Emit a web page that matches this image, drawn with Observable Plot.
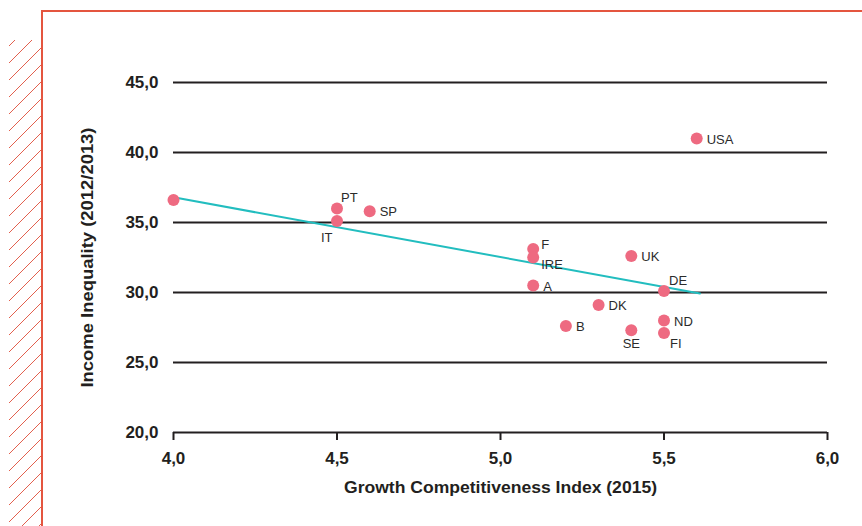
<!DOCTYPE html>
<html>
<head>
<meta charset="utf-8">
<script src="https://cdn.jsdelivr.net/npm/d3@7"></script>
<script src="https://cdn.jsdelivr.net/npm/@observablehq/plot@0.6"></script>
<style>
  html, body { margin: 0; padding: 0; background: #fff; }
  #wrap { position: relative; width: 862px; height: 526px; overflow: hidden; background: #fff; }
  #hatch { position: absolute; left: 9px; top: 40px; width: 32px; height: 486px; }
  #frame { position: absolute; left: 41px; top: 10px; width: 830px; height: 530px;
    border-top: 2.5px solid #e4553f; border-left: 2.5px solid #e4553f; }
  #chart { position: absolute; left: 0; top: 0; }
</style>
</head>
<body>
<div id="wrap">
  <svg id="hatch" width="32" height="486">
    <defs>
      <pattern id="hp" width="17" height="17" patternUnits="userSpaceOnUse" patternTransform="translate(0,6)">
        <line x1="0" y1="17" x2="17" y2="0" stroke="#e2604e" stroke-width="1"/>
        <line x1="-1" y1="1" x2="1" y2="-1" stroke="#e2604e" stroke-width="1"/>
        <line x1="16" y1="18" x2="18" y2="16" stroke="#e2604e" stroke-width="1"/>
      </pattern>
    </defs>
    <rect width="32" height="486" fill="url(#hp)"/>
  </svg>
  <div id="frame"></div>
  <div id="chart"></div>
</div>
<script>
// Data
const countries = ["", "PT", "IT", "SP", "USA", "F", "IRE", "A", "UK", "DE", "DK", "B", "SE", "ND", "FI"];
const gci       = [4.0, 4.5, 4.5, 4.6, 5.6, 5.1, 5.1, 5.1, 5.4, 5.5, 5.3, 5.2, 5.4, 5.5, 5.5];
const inequality= [36.6, 36.0, 35.1, 35.8, 41.0, 33.1, 32.5, 30.5, 32.6, 30.1, 29.1, 27.6, 27.3, 28.0, 27.1];
const labelPlacement = ["none", "top-right", "below-left", "right", "right", "upper-right", "lower-right", "right", "right", "top-right-near", "right", "right", "below", "right", "below-right"];
const trendX = [4.0, 5.61];
const trendY = [36.8, 29.93];
const xTicks = [4.0, 4.5, 5.0, 5.5, 6.0];
const yTicks = [20, 25, 30, 35, 40, 45];
const xTitle = "Growth Competitiveness Index (2015)";
const yTitle = "Income Inequality (2012/2013)";

const points = countries.map((c, i) => ({name: c, x: gci[i], y: inequality[i], pos: labelPlacement[i]}));
const trend = trendX.map((x, i) => ({x, y: trendY[i]}));

const placements = {
  "right":          {dx: 10, dy: 1,   anchor: "start"},
  "top-right":      {dx: 4,  dy: -11, anchor: "start"},
  "top-right-near": {dx: 5,  dy: -10, anchor: "start"},
  "upper-right":    {dx: 8,  dy: -4,  anchor: "start"},
  "lower-right":    {dx: 8,  dy: 7,   anchor: "start"},
  "below":          {dx: 0,  dy: 14,  anchor: "middle"},
  "below-right":    {dx: 6,  dy: 11,  anchor: "start"},
  "below-left":     {dx: -16,dy: 17,  anchor: "start"}
};

const fmt = d => d.toFixed(1).replace(".", ",");
const ink = "#231f20";
const tickFont = "'Liberation Sans', Arial, Helvetica, sans-serif";

const labelMarks = Object.entries(placements).map(([key, p]) =>
  Plot.text(points.filter(d => d.pos === key), {
    x: "x", y: "y", text: "name", dx: p.dx, dy: p.dy, textAnchor: p.anchor,
    fill: "#2b2b2b", fontSize: 13, fontFamily: tickFont
  })
);

const chart = Plot.plot({
  width: 862,
  height: 526,
  marginLeft: 173,
  marginRight: 35,
  marginTop: 82,
  marginBottom: 94,
  style: {background: "transparent", color: ink, fontFamily: tickFont, overflow: "visible"},
  x: {domain: [4, 6]},
  y: {domain: [20, 45]},
  marks: [
    Plot.ruleY(yTicks, {stroke: ink, strokeWidth: 2}),
    Plot.axisY({ticks: yTicks, tickFormat: fmt, tickSize: 0, tickPadding: 15, label: null,
      fontSize: 17, fontWeight: "bold", fill: ink}),
    Plot.axisX({ticks: xTicks, tickFormat: fmt, tickSize: 8, tickPadding: 11, label: null,
      fontSize: 17, fontWeight: "bold", stroke: ink, strokeWidth: 2, fill: ink}),
    Plot.text([xTitle], {frameAnchor: "bottom", dy: 60, textAnchor: "middle", fontSize: 16.5, fontWeight: "bold",
      fontFamily: tickFont, fill: ink}),
    Plot.text([yTitle], {frameAnchor: "left", dx: -86, rotate: -90, textAnchor: "middle", fontSize: 16.5, fontWeight: "bold",
      fontFamily: tickFont, fill: ink}),
    Plot.line(trend, {x: "x", y: "y", stroke: "#22bdbf", strokeWidth: 2}),
    Plot.dot(points, {x: "x", y: "y", r: 6, fill: "#ee6a81", stroke: "none"}),
    ...labelMarks
  ]
});
// condense the axis titles to the reference's narrow typeface width
chart.querySelectorAll("text").forEach(t => {
  if (t.textContent === xTitle) { t.setAttribute("textLength", 313); t.setAttribute("lengthAdjust", "spacingAndGlyphs"); }
  if (t.textContent === yTitle) { t.setAttribute("textLength", 260); t.setAttribute("lengthAdjust", "spacingAndGlyphs"); }
});
document.getElementById("chart").appendChild(chart);
</script>
</body>
</html>
